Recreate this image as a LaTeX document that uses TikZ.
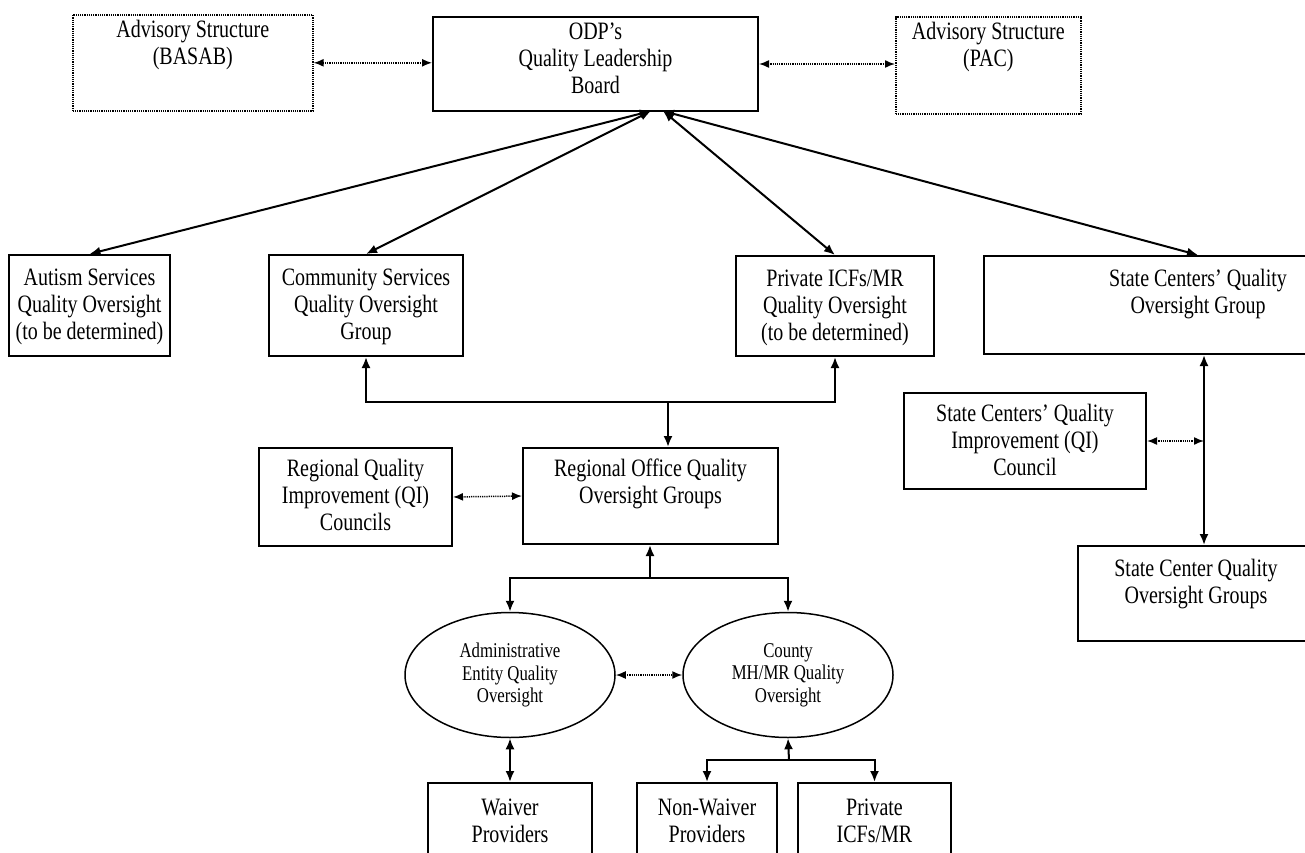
\documentclass[tikz,border=0pt]{standalone}
\usepackage{fontspec}
\setmainfont{Liberation Serif}[FakeStretch=0.8]
\usetikzlibrary{arrows.meta,shapes.geometric}

% #1 style, #2 name, #3 x1, #4 y1, #5 x2, #6 y2, #7 first baseline offset, #8 text
\newcommand{\bxnode}[8]{%
  \node[#1, anchor=north west, inner sep=0pt] (#2) at (#3,#4)
    {\parbox[c][\dimexpr #6pt-#4pt\relax][t]{\dimexpr #5pt-#3pt\relax}{\centering\rule{0pt}{#7pt}#8\par}};}

\begin{document}
\begin{tikzpicture}[x=1pt,y=-1pt,
  every node/.style={font=\fontsize{25}{27}\selectfont},
  boxst/.style={draw, line width=2pt},
  dotbox/.style={draw, line width=1.6pt, dash pattern=on 1.2pt off 1pt},
  ell/.style={draw, ellipse, line width=1.5pt, inner sep=0pt, align=center,
    minimum width=210pt, minimum height=125pt, font=\fontsize{21}{22.5}\selectfont},
  conn/.style={line width=2pt, -{Latex[length=11pt,width=9pt]}},
  dconn/.style={line width=2pt, {Latex[length=11pt,width=9pt]}-{Latex[length=11pt,width=9pt]}},
  dotconn/.style={line width=1.5pt, dash pattern=on 1.2pt off 1pt,
    {Latex[length=10pt,width=8pt]}-{Latex[length=10pt,width=8pt]}}]
\fill[white] (0,0) rectangle (1305,853);
\clip (0,0) rectangle (1305,853);

% top row
\bxnode{dotbox}{basab}{72}{14}{312}{110}{23}{Advisory Structure\\(BASAB)}
\bxnode{boxst}{odp}{432}{16}{757}{110}{23}{ODP’s\\Quality Leadership\\Board}
\bxnode{dotbox}{pac}{895}{16}{1080}{113}{23}{Advisory Structure\\(PAC)}

% second row
\bxnode{boxst}{autism}{8}{254}{169}{355}{30}{Autism Services\\Quality Oversight\\(to be determined)}
\bxnode{boxst}{community}{268}{254}{462}{355}{30}{Community Services\\Quality Oversight\\Group}
\bxnode{boxst}{private}{735}{255}{933}{355}{30}{Private ICFs/MR\\Quality Oversight\\(to be determined)}
\bxnode{boxst}{scqo}{983}{255}{1411}{353}{30}{State Centers’ Quality\\Oversight Group}

% middle
\bxnode{boxst}{regqi}{258}{447}{451}{545}{28}{Regional Quality\\Improvement (QI)\\Councils}
\bxnode{boxst}{regoff}{522}{447}{777}{543}{28}{Regional Office Quality\\Oversight Groups}
\bxnode{boxst}{council}{903}{392}{1145}{488}{28}{State Centers’ Quality\\Improvement (QI)\\Council}
\bxnode{boxst}{scg}{1077}{545}{1313}{640}{30}{State Center Quality\\Oversight Groups}

% ellipses
\node[ell] (admin) at (510,675) {Administrative\\Entity Quality\\Oversight};
\node[ell] (county) at (788,675) {County\\MH/MR Quality\\Oversight};

% bottom row
\bxnode{boxst}{waiver}{427}{782}{591}{880}{32}{Waiver\\Providers}
\bxnode{boxst}{nonwaiver}{636}{782}{776}{880}{32}{Non-Waiver\\Providers}
\bxnode{boxst}{privicf}{797}{782}{950}{880}{32}{Private\\ICFs/MR}

% coordinates
\coordinate (odpL) at (651,111);
\coordinate (odpR) at (663,111);
\coordinate (j1) at (668,402);
\coordinate (j2) at (650,578);
\coordinate (j3) at (789,760);
\coordinate (vx) at (1204,0);

% connectors
\draw[dotconn] (basab.east) -- (odp.west |- basab.east);
\draw[dotconn] (odp.east) -- (pac.west |- odp.east);

\draw[dconn] (odpL) -- (autism.north);
\draw[dconn] (odpL) -- (community.north);
\draw[dconn] (odpR) -- (private.north);
\draw[dconn] (odpR) -- (scqo.north);

\draw[conn] (j1) -| (community.south);
\draw[conn] (j1) -| (private.south);
\draw[conn] (j1) -- (j1 |- regoff.north);

\draw[dotconn] (regqi.east) -- (regoff.west);

\draw[conn] (j2) -- (j2 |- regoff.south);
\draw[conn] (j2) -| (admin.north);
\draw[conn] (j2) -| (county.north);

\draw[dotconn] (admin.east) -- (county.west);
\draw[dconn] (admin.south) -- (waiver.north);

\draw[conn] (j3) -- (county.south);
\draw[conn] (j3) -| (nonwaiver.north);
\draw[conn] (j3) -| (privicf.north);

\draw[dconn] (scqo.south -| vx) -- (scg.north -| vx);
\draw[dotconn] (council.east) -- (council.east -| vx);
\end{tikzpicture}
\end{document}
